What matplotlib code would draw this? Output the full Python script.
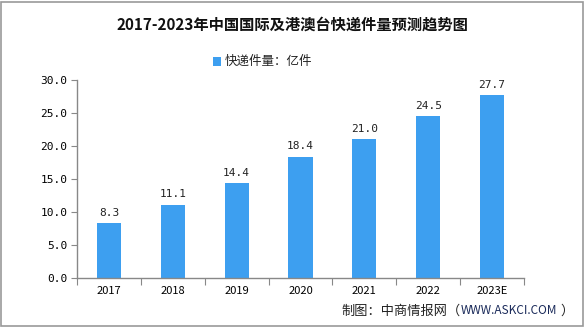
import matplotlib
matplotlib.use("Agg")
import matplotlib.pyplot as plt
from matplotlib.patches import Rectangle

plt.rcParams['font.family'] = ['Noto Sans CJK SC', 'DejaVu Sans']

categories = ["2017", "2018", "2019", "2020", "2021", "2022", "2023E"]
values = [8.3, 11.1, 14.4, 18.4, 21.0, 24.5, 27.7]
yticks = [0.0, 5.0, 10.0, 15.0, 20.0, 25.0, 30.0]

bar_color = "#3d9ff0"
axis_color = "#888888"
mono = "DejaVu Sans Mono"

fig = plt.figure(figsize=(5.85, 3.27), dpi=100)
ax = fig.add_axes([77/585, 1-278/327, 447/585, 198/327])

x = list(range(len(categories)))
bars = ax.bar(x, values, width=0.38, color=bar_color, zorder=2)
for xi, v in zip(x, values):
    ax.text(xi, v + 0.8, f"{v:.1f}", ha="center", va="bottom", fontsize=8, color="#222222",
            family=mono)

ax.set_xlim(-0.5, len(categories) - 0.5)
ax.set_ylim(0, 30)
ax.set_yticks(yticks)
ax.set_yticklabels([f"{t:.1f}" for t in yticks], fontsize=8, family=mono)
ax.set_xticks([i - 0.5 for i in range(len(categories) + 1)], minor=False)
ax.set_xticklabels([""] * (len(categories) + 1))
ax.set_xticks(x, minor=True)
ax.set_xticklabels(categories, minor=True, fontsize=8)
ax.tick_params(axis="x", which="major", length=5, color=axis_color, direction="out")
ax.tick_params(axis="x", which="minor", length=0, pad=6)
ax.tick_params(axis="y", length=4, color=axis_color, direction="out", pad=3)
for s in ["top", "right"]:
    ax.spines[s].set_visible(False)
ax.spines["left"].set_color(axis_color)
ax.spines["bottom"].set_color(axis_color)
ax.spines["left"].set_linewidth(1)
ax.spines["bottom"].set_linewidth(1)

fig.text(0.5, 1-25/327, "2017-2023年中国国际及港澳台快递件量预测趋势图", ha="center", va="center",
         fontsize=11, fontweight="bold", color="#111111")

# legend
fig.patches.append(Rectangle((213/585, 1-66/327), 8/585, 9/327, transform=fig.transFigure,
                             facecolor=bar_color, edgecolor="none"))
fig.text(225/585, 1-61/327, "快递件量：亿件", ha="left", va="center", fontsize=9, color="#222222")

fig.text(341/585, 1-311/327, "制图：中商情报网（", ha="left", va="center", fontsize=9.5, color="#222222")
fig.text(461/585, 1-311/327, "WWW.ASKCI.COM", ha="left", va="center", fontsize=8.5, color="#1a2a5a")
fig.text(560/585, 1-311/327, "）", ha="left", va="center", fontsize=9.5, color="#222222")

fig.patches.append(Rectangle((1/585, 1/327), 582/585, 324/327, transform=fig.transFigure,
                             facecolor="none", edgecolor="#999999", linewidth=1.2))

fig.savefig("out.png", dpi=100)
